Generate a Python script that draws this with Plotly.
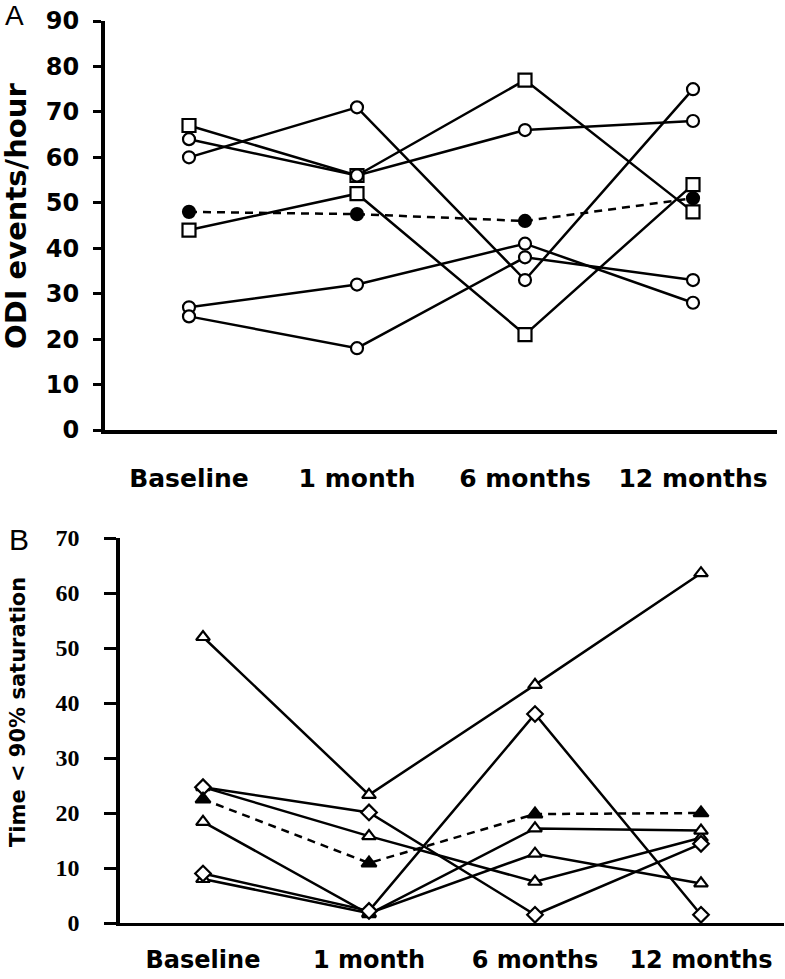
import plotly.graph_objects as go

categories = ["Baseline", "1 month", "6 months", "12 months"]

# Panel A: ODI events/hour (individual patients + mean)
odi_square_1 = [67, 56, 77, 48]
odi_square_2 = [44, 52, 21, 54]
odi_circle_1 = [64, 56, 66, 68]
odi_circle_2 = [60, 71, 33, 75]
odi_circle_3 = [27, 32, 41, 28]
odi_circle_4 = [25, 18, 38, 33]
odi_mean = [48, 47.5, 46, 51]

# Panel B: Time < 90% saturation (individual patients + mean)
sat_tri_1 = [52, 23.3, 43.3, 63.6]
sat_tri_2 = [24.7, 15.8, 7.5, 15.5]
sat_tri_3 = [18.4, 1.6, 17.2, 16.8]
sat_tri_4 = [8, 1.8, 12.6, 7.2]
sat_dia_1 = [24.7, 20.1, 1.5, 14.4]
sat_dia_2 = [9, 2.2, 38, 1.5]
sat_mean = [22.5, 10.9, 19.8, 20.0]

W, H = 785, 979
LW = 2.5

panel_a = [
    (odi_square_1, "square", 13, "white", "solid"),
    (odi_square_2, "square", 13, "white", "solid"),
    (odi_circle_1, "circle", 12, "white", "solid"),
    (odi_circle_2, "circle", 12, "white", "solid"),
    (odi_circle_3, "circle", 12, "white", "solid"),
    (odi_circle_4, "circle", 12, "white", "solid"),
    (odi_mean, "circle", 12, "black", "8px,6px"),
]
panel_b = [
    (sat_tri_1, "triangle-up", 12, "white", "solid"),
    (sat_tri_2, "triangle-up", 12, "white", "solid"),
    (sat_tri_3, "triangle-up", 12, "white", "solid"),
    (sat_tri_4, "triangle-up", 12, "white", "solid"),
    (sat_dia_1, "diamond", 12, "white", "solid"),
    (sat_dia_2, "diamond", 12, "white", "solid"),
    (sat_mean, "triangle-up", 13, "black", "8px,6px"),
]

fig = go.Figure()

for series, axes in ((panel_a, ("x", "y")), (panel_b, ("x2", "y2"))):
    # lines first
    for vals, sym, size, fill, dash in series:
        fig.add_trace(go.Scatter(
            x=categories, y=vals, mode="lines",
            line=dict(color="black", width=LW, dash=dash),
            xaxis=axes[0], yaxis=axes[1], hoverinfo="skip"))
    # markers on top
    for vals, sym, size, fill, dash in series:
        fig.add_trace(go.Scatter(
            x=categories, y=vals, mode="markers",
            marker=dict(symbol=sym, size=size, color=fill,
                        line=dict(color="black", width=2.2)),
            xaxis=axes[0], yaxis=axes[1]))

def px_x(p):
    return p / W

def px_y(p):
    return 1 - p / H

xfont = dict(family="DejaVu Sans", size=25, color="black", weight="bold")
xfont_b = dict(family="DejaVu Sans", size=24, color="black", weight="bold")
tickfont_a = dict(family="DejaVu Sans", size=24, color="black", weight="bold")
tickfont_b = dict(family="Liberation Serif", size=24, color="black", weight="bold")

fig.update_layout(
    template="none",
    width=W, height=H,
    margin=dict(l=0, r=0, t=0, b=0, autoexpand=False),
    paper_bgcolor="white", plot_bgcolor="white",
    showlegend=False,
    xaxis=dict(domain=[px_x(105), px_x(777)], anchor="y", automargin=False,
               type="category", range=[-0.5, 3.5],
               showgrid=False, zeroline=False,
               showline=True, linecolor="black", linewidth=4,
               ticks="", tickfont=xfont, ticklabelstandoff=23),
    yaxis=dict(domain=[px_y(430), px_y(21)], anchor="x", automargin=False,
               range=[0, 90], dtick=10,
               showgrid=False, zeroline=False,
               showline=True, linecolor="black", linewidth=4,
               ticks="outside", ticklen=8, tickwidth=3, tickcolor="black",
               tickfont=tickfont_a, ticklabelstandoff=9),
    xaxis2=dict(domain=[px_x(120), px_x(784)], anchor="y2", automargin=False,
                type="category", range=[-0.5, 3.5],
                showgrid=False, zeroline=False,
                showline=True, linecolor="black", linewidth=3,
                ticks="", tickfont=xfont_b, ticklabelstandoff=13),
    yaxis2=dict(domain=[px_y(923), px_y(538)], anchor="x2", automargin=False,
                range=[0, 70], dtick=10,
                showgrid=False, zeroline=False,
                showline=True, linecolor="black", linewidth=3.5,
                ticks="outside", ticklen=12, tickwidth=3, tickcolor="black",
                tickfont=tickfont_b, ticklabelstandoff=20),
    annotations=[
        dict(text="A", x=px_x(14), y=px_y(16), xref="paper", yref="paper",
             showarrow=False, xanchor="center", yanchor="middle",
             font=dict(family="Liberation Sans", size=28, color="black")),
        dict(text="B", x=px_x(19), y=px_y(539), xref="paper", yref="paper",
             showarrow=False, xanchor="center", yanchor="middle",
             font=dict(family="Liberation Sans", size=30, color="black")),
        dict(text="<b>ODI events/hour</b>", x=px_x(16), y=px_y(216),
             xref="paper", yref="paper", showarrow=False, textangle=-90,
             xanchor="center", yanchor="middle",
             font=dict(family="DejaVu Sans", size=29, color="black")),
        dict(text="<b>Time < 90% saturation</b>", x=px_x(18), y=px_y(712),
             xref="paper", yref="paper", showarrow=False, textangle=-90,
             xanchor="center", yanchor="middle",
             font=dict(family="DejaVu Sans", size=21, color="black")),
    ],
)

fig.write_html("out.html",
               config={"displayModeBar": False},
               post_script="document.body.style.margin='0';document.body.style.overflow='hidden';")
